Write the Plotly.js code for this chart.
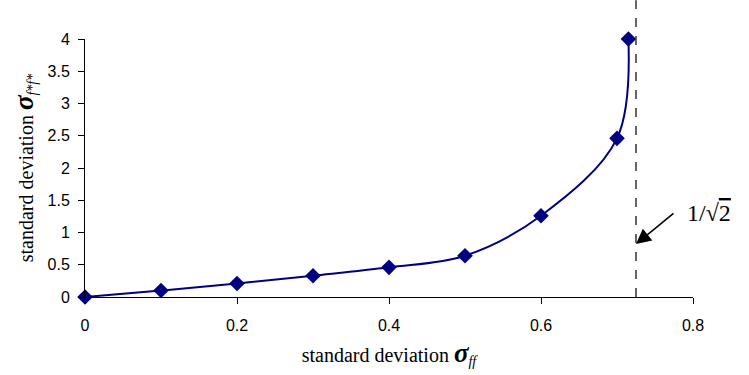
<!DOCTYPE html>
<html>
<head>
<meta charset="utf-8">
<script src="https://cdn.plot.ly/plotly-3.0.1.min.js"></script>
<style>html,body{margin:0;padding:0;background:#fff}#chart{width:749px;height:375px}</style>
</head>
<body>
<div id="chart"></div>
<script>
const sigmaFF = [0, 0.1, 0.2, 0.3, 0.4, 0.5, 0.6, 0.7, 0.715];
const sigmaFstar = [0, 0.10, 0.21, 0.33, 0.46, 0.64, 1.26, 2.46, 4.0];
const asymptoteX = 0.725;
const xTicks = [0, 0.2, 0.4, 0.6, 0.8];
const yTicks = [0, 0.5, 1, 1.5, 2, 2.5, 3, 3.5, 4];

const trace = {
  x: sigmaFF, y: sigmaFstar, type: 'scatter', mode: 'lines+markers',
  line: {color: '#000080', width: 2, shape: 'spline', smoothing: 1},
  marker: {symbol: 'diamond', size: 12, color: '#000080'},
  cliponaxis: false, hoverinfo: 'skip'
};

const layout = {
  width: 749, height: 375,
  margin: {l: 85, r: 56, t: 39, b: 78},
  paper_bgcolor: '#fff', plot_bgcolor: '#fff',
  showlegend: false,
  font: {family: 'Liberation Sans, Arial', size: 16, color: '#000'},
  xaxis: {
    range: [0, 0.8], tickvals: xTicks, ticktext: xTicks.map(String),
    showgrid: false, zeroline: false, showline: true, linecolor: '#000', linewidth: 1,
    ticks: 'outside', ticklen: 6, tickcolor: '#000', ticklabelstandoff: 8,
    title: {text: 'standard deviation <b><i><span style="font-size:27px">σ</span></i></b><sub><i>ff</i></sub>',
            font: {family: 'Liberation Serif, Times New Roman', size: 20}, standoff: 14}
  },
  yaxis: {
    range: [0, 4], tickvals: yTicks, ticktext: yTicks.map(String),
    showgrid: false, zeroline: false, showline: true, linecolor: '#000', linewidth: 1,
    ticks: 'outside', ticklen: 6, tickcolor: '#000', ticklabelstandoff: 5,
    title: {text: 'standard deviation <b><i><span style="font-size:27px">σ</span></i></b><sub><i>f*f*</i></sub>',
            font: {family: 'Liberation Serif, Times New Roman', size: 20}, standoff: 8}
  },
  shapes: [{
    type: 'line', xref: 'x', yref: 'paper', x0: asymptoteX, x1: asymptoteX, y0: 0, y1: 1.15,
    line: {color: '#333', width: 1.5, dash: 'dash'}
  }],
  annotations: [{
    x: asymptoteX, y: 0.82, xref: 'x', yref: 'y',
    ax: 39, ay: -32, showarrow: true, arrowhead: 2, arrowsize: 2, arrowwidth: 1.5, arrowcolor: '#000',
    text: ''
  }, {
    x: 0.79, y: 1.3, xref: 'x', yref: 'y', xanchor: 'left', yanchor: 'middle', showarrow: false,
    text: '1/√<span style="text-decoration:overline">2</span>',
    font: {family: 'Liberation Serif, Times New Roman', size: 24, color: '#000'}
  }]
};

Plotly.newPlot('chart', [trace], layout, {displayModeBar: false, staticPlot: true});
</script>
</body>
</html>
